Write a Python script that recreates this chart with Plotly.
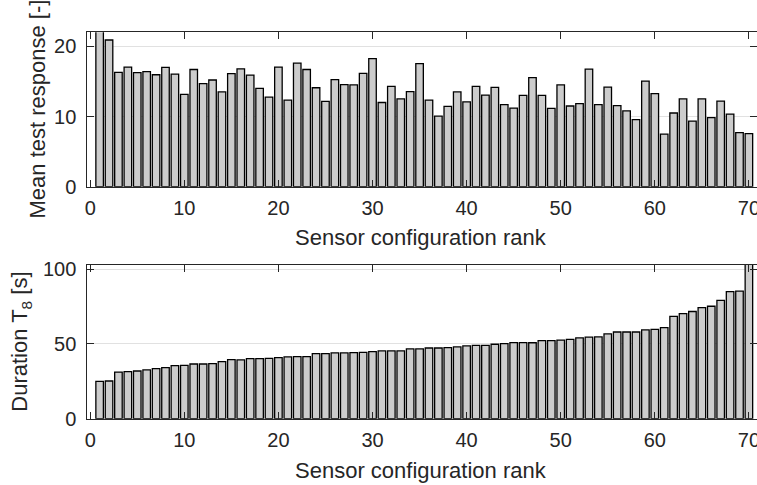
import plotly.graph_objects as go

W, H = 757, 485

rank = list(range(1, 71))

mean_response = [
    23.5, 20.9, 16.3, 17.05, 16.25, 16.4, 15.95, 17.0, 16.05, 13.15,
    16.7, 14.7, 15.2, 13.5, 16.1, 16.8, 15.9, 14.0, 12.75, 17.05,
    12.35, 17.6, 16.7, 14.1, 12.15, 15.25, 14.55, 14.5, 16.15, 18.25,
    12.0, 14.3, 12.5, 13.55, 17.55, 12.35, 10.05, 11.45, 13.5, 12.1,
    14.3, 13.05, 14.15, 11.7, 11.2, 13.0, 15.55, 13.0, 11.15, 14.5,
    11.5, 11.85, 16.75, 11.7, 14.2, 11.55, 10.8, 9.55, 15.05, 13.25,
    7.5, 10.5, 12.5, 9.35, 12.5, 9.85, 12.2, 10.35, 7.7, 7.55,
]

duration_t8 = [
    25.0, 25.2, 31.2, 31.5, 31.9, 32.6, 33.5, 34.2, 35.5, 35.7,
    36.6, 36.6, 36.8, 38.2, 39.5, 39.3, 40.2, 40.2, 40.4, 40.8,
    41.3, 41.5, 41.5, 43.5, 43.5, 44.0, 44.0, 44.2, 44.4, 44.9,
    45.3, 45.3, 45.3, 46.7, 46.7, 47.3, 47.3, 47.5, 48.0, 48.7,
    49.1, 49.1, 49.8, 50.2, 50.9, 50.9, 50.8, 52.2, 52.2, 52.5,
    53.1, 54.0, 54.5, 54.7, 56.7, 58.0, 58.0, 58.0, 59.4, 59.8,
    60.9, 68.5, 70.3, 71.7, 74.3, 75.2, 79.2, 85.0, 85.3, 110.0,
]

x_ticks = [0, 10, 20, 30, 40, 50, 60, 70]
y1_ticks = [0, 10, 20]
y2_ticks = [0, 50, 100]

x_label = "Sensor configuration rank"
y1_label = "Mean test response [-]"
y2_label = "Duration T<sub>8</sub> [s]"

INK = "#262626"
FONT = "Liberation Sans"
BAR_FILL = "#cccccc"

def px_x(p):
    return p / W

def px_y(p):
    return 1 - p / H

fig = go.Figure()
fig.add_trace(go.Bar(x=rank, y=mean_response, xaxis="x", yaxis="y",
                     marker=dict(color=BAR_FILL, line=dict(color="black", width=1.3)),
                     showlegend=False, hoverinfo="skip"))
fig.add_trace(go.Bar(x=rank, y=duration_t8, xaxis="x2", yaxis="y2",
                     marker=dict(color=BAR_FILL, line=dict(color="black", width=1.3)),
                     showlegend=False, hoverinfo="skip"))

x_dom = [px_x(87.3), 1.0]
xr = [-0.31, 70.86]

common_x = dict(range=xr, tickvals=x_ticks, ticks="inside", ticklen=7, tickwidth=1,
                tickcolor=INK, showline=True, linecolor=INK, linewidth=1, mirror="ticks",
                showgrid=False, zeroline=False, ticklabeloverflow="allow", automargin=False,
                tickfont=dict(family=FONT, size=20, color=INK), ticklabelstandoff=3)
common_y = dict(ticks="inside", ticklen=7, tickwidth=1, tickcolor=INK, showline=True,
                linecolor=INK, linewidth=1, mirror="ticks", showgrid=True,
                gridcolor="#e1e1e1", gridwidth=1, zeroline=False, automargin=False,
                tickfont=dict(family=FONT, size=20, color=INK), ticklabelstandoff=6)

fig.update_layout(
    template="none",
    width=W, height=H,
    margin=dict(l=0, r=0, t=0, b=0, pad=0, autoexpand=False),
    paper_bgcolor="white", plot_bgcolor="white",
    bargap=0.2,
    xaxis=dict(domain=x_dom, anchor="y", **common_x),
    yaxis=dict(domain=[px_y(186.7), px_y(32.3)], anchor="x", range=[0, 22],
               tickvals=y1_ticks, **common_y),
    xaxis2=dict(domain=x_dom, anchor="y2", **common_x),
    yaxis2=dict(domain=[px_y(418.7), px_y(264.7)], anchor="x2", range=[0, 103],
                tickvals=y2_ticks, **common_y),
    annotations=[
        dict(text=x_label, x=px_x(421), y=px_y(237), xref="paper", yref="paper",
             xanchor="center", yanchor="middle", showarrow=False,
             font=dict(family=FONT, size=22, color=INK)),
        dict(text=x_label, x=px_x(421), y=px_y(470), xref="paper", yref="paper",
             xanchor="center", yanchor="middle", showarrow=False,
             font=dict(family=FONT, size=22, color=INK)),
        dict(text=y1_label, x=px_x(37), y=px_y(109.5), xref="paper", yref="paper",
             xanchor="center", yanchor="middle", showarrow=False, textangle=-90,
             font=dict(family=FONT, size=22, color=INK)),
        dict(text=y2_label, x=px_x(21), y=px_y(341.7), xref="paper", yref="paper",
             xanchor="center", yanchor="middle", showarrow=False, textangle=-90,
             font=dict(family=FONT, size=22, color=INK)),
    ],
)

page_fix = (
    "document.documentElement.style.margin='0';"
    "document.body.style.margin='0';"
    "document.body.style.overflow='hidden';"
)

fig.write_html("out.html", config={"displayModeBar": False, "staticPlot": True},
               post_script=page_fix)
